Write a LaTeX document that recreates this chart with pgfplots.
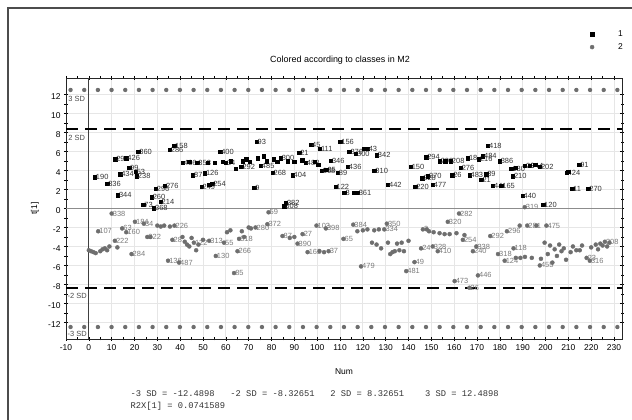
\documentclass[border=0pt]{standalone}
\usepackage{pgfplots}
\pgfplotsset{compat=1.18}
\usepackage{fontspec}
\setmainfont{Liberation Sans}
\setmonofont{Liberation Mono}
\definecolor{cltwo}{HTML}{6E6E6E}
\definecolor{lblone}{HTML}{333333}
\definecolor{lbltwo}{HTML}{7A7A7A}
\definecolor{gridc}{HTML}{E6E6E6}
\begin{document}
\begin{tikzpicture}
\path[use as bounding box] (0,0) rectangle (632bp,420bp);
\draw[line width=1.2bp, black!70] (8bp,0) -- (8bp,412bp) -- (632bp,412bp);
\node[font=\fontsize{9}{9}\selectfont] at (340bp,360bp) {Colored according to classes in M2};
\begin{axis}[
  scale only axis, width=556bp, height=261bp,
  at={(66bp,81bp)}, anchor=south west,
  xmin=-10, xmax=233.5, ymin=-13.75, ymax=13.75,
  xtick={-10,0,...,230}, ytick={-12,-10,...,12},
  minor x tick num=1, minor y tick num=1,
  tick align=center, major tick length=4bp, minor tick length=3bp,
  grid=major, major grid style={gridc, line width=0.7pt},
  axis line style={black!85, line width=0.9pt},
  tick style={black, line width=0.6pt},
  ticklabel style={font=\fontsize{8.5}{8.5}\selectfont},
  yticklabel style={yshift=-2bp},
  /pgf/number format/assume math mode=true,
  xlabel={Num}, ylabel={t[1]},
  label style={font=\fontsize{8.5}{8.5}\selectfont},
  x label style={at={(axis description cs:0.5,-0.126)}, anchor=center},
  y label style={at={(axis description cs:-0.056,0.5)}, anchor=center},
  clip=false,
  legend style={at={(rel axis cs:1,1)}, anchor=south east, xshift=3bp, yshift=25bp,
    draw=none, fill=none, inner sep=0pt, row sep=1.5bp,
    font=\fontsize{8.5}{8.5}\selectfont,
    /tikz/every odd column/.append style={column sep=22bp}},
  legend cell align=left,
]
% reference lines
\draw[gray!90, line width=1.8bp] (axis cs:-10,0) -- (axis cs:233.5,0);
\draw[black!75, line width=1.2bp] (axis cs:0,-13.75) -- (axis cs:0,13.75);
\draw[black, line width=2bp, dash pattern=on 12bp off 7bp] (axis cs:-10,8.32651) -- (axis cs:233.5,8.32651);
\draw[black, line width=2bp, dash pattern=on 12bp off 7bp] (axis cs:-10,-8.32651) -- (axis cs:233.5,-8.32651);
\draw[cltwo, line width=4.4bp, line cap=round, dash pattern=on 0bp off 13.67bp] (axis cs:-8,12.4898) -- (axis cs:234,12.4898);
\draw[cltwo, line width=4.4bp, line cap=round, dash pattern=on 0bp off 13.67bp] (axis cs:-8,-12.4898) -- (axis cs:234,-12.4898);
\node[anchor=west, font=\fontsize{7.5}{7.5}\selectfont, black!70, inner sep=0.5bp] at (axis cs:-9.3,11.5) {3 SD};
\node[anchor=west, font=\fontsize{7.5}{7.5}\selectfont, black!70, inner sep=0.5bp] at (axis cs:-9.3,7.4) {2 SD};
\node[anchor=west, font=\fontsize{7.5}{7.5}\selectfont, black!70, inner sep=0.5bp] at (axis cs:-9.6,-9.2) {-2 SD};
\node[anchor=west, font=\fontsize{7.5}{7.5}\selectfont, black!70, inner sep=0.5bp] at (axis cs:-9.6,-13.25) {-3 SD};

% class 1 labeled
\addplot[only marks, mark=square*, mark size=1.7bp, black,
  nodes near coords, point meta=explicit symbolic,
  every node near coord/.append style={anchor=west, inner sep=1bp, font=\fontsize{7.5}{7.5}\selectfont, color=lblone}]
  table[meta=l] {
x y l
2.6 3.3 190
8 2.6 336
11.5 5.2 29
12.7 1.4 344
13.7 3.6 434
16.4 5.3 426
17.6 4.3 99
20.5 3.9 53
21 3.4 238
21.6 6.0 360
23.8 0.4 73
27.5 1.2 260
28.5 0.03 368
29.3 2.1 296
31.4 0.7 214
33.3 2.4 276
35.4 6.2 286
37.3 6.6 158
41.2 4.8 436
45.6 3.5 87
47.5 4.8 353
49.3 2.3 249
50.8 3.7 126
54 2.6 254
57.5 6.0 400
60 4.8 34
66.8 4.4 292
72.4 2.2 9
73.4 7.05 93
75.3 4.5 485
80.4 3.75 268
84 5.3 300
85.6 0.25 308
86.3 0.6 382
89.2 3.5 404
92.1 5.9 21
95 4.8 488
97.3 6.7 45
101.2 6.3 111
102 4.0 368
104 4.1 35
106 5.05 346
108 2.3 122
109 3.8 89
110.1 7.05 156
111.9 1.65 3
113.4 4.4 436
114.1 6.0 376
117 5.8 300
117.7 1.65 361
122.1 6.3 43
125 4.0 310
126.1 5.6 342
131 2.5 442
140.9 4.4 150
142.9 2.3 220
146 3.2 228
147.7 5.4 294
148.5 3.4 270
150.6 2.5 477
153.6 5.0 209
158.5 5.0 208
159.1 3.5 26
162.8 4.3 276
166 5.3 18
166.7 3.5 483
170.8 5.2 216
171.9 3.05 21
172.6 5.5 484
174 3.6 39
174.8 6.6 418
177 2.4 44
179.9 5.0 386
180.6 2.4 165
185 4.2 180
185.7 3.4 210
189.9 1.37 440
191 4.5 29
193 4.5 344
197.5 4.4 202
198.9 0.42 120
209.2 3.8 424
211.6 2.1 11
214.7 4.6 91
218.7 2.1 270
};
\addlegendentry{1}
% class 2 labeled
\addplot[only marks, mark=*, mark size=2bp, cltwo,
  nodes near coords, point meta=explicit symbolic,
  every node near coord/.append style={anchor=west, inner sep=1bp, font=\fontsize{7.5}{7.5}\selectfont, color=lbltwo}]
  table[meta=l] {
x y l
4.1 -2.4 107
10 -0.53 338
11.4 -3.4 222
14.6 -2.1 63
16.4 -2.5 160
18.7 -4.8 284
20.2 -1.4 184
24.1 -1.6 34
25.6 -3.0 322
34.7 -5.5 136
36.6 -3.3 28
37.5 -1.8 226
39.5 -5.7 487
46 -3.6 122
52.7 -3.4 313
55.6 -5.0 130
59.2 -3.6 55
63.6 -6.8 85
65.1 -4.5 266
65.8 -3.2 518
73 -2.0 280
78.2 -1.65 372
78.7 -0.4 59
84.8 -2.9 87
91.4 -3.7 390
93.6 -2.7 27
95.8 -4.6 162
99.7 -1.8 103
103.8 -2.1 398
105 -4.5 37
111.5 -3.2 65
115.8 -1.7 384
119.2 -6.1 479
129.4 -2.2 334
130.5 -1.6 350
139 -6.6 481
142.6 -5.65 49
145.5 -4.2 24
146.3 -2.2 3
150.6 -4.0 328
152.8 -4.5 410
157.2 -1.4 320
160.2 -7.65 473
162.1 -0.53 282
163.8 -3.3 254
166.7 -8.35 26
168.2 -4.5 240
169.7 -4.0 338
170.4 -7.05 446
175.8 -2.9 292
179.2 -4.8 318
182.1 -5.5 124
183.1 -2.4 296
186 -4.2 118
190.9 0.14 319
192 -1.8 281
197.5 -6.0 455
200.4 -1.8 475
218 -5.2 23
219.4 -5.5 316
226 -3.5 308
};
\addlegendentry{2}
% class 1 unlabeled
\addplot[only marks, mark=square*, mark size=1.7bp, black, forget plot] table {
x y
44 4.9
52 4.8
52.7 2.5
55 4.8
58.5 4.9
62 5.0
64.4 4.2
67.5 5.0
69 5.2
70.5 4.9
74 5.3
76.5 5.5
78 5.0
81 5.2
82.5 4.9
87 5.0
90 4.9
93.5 5.1
99 4.9
100.5 4.6
116 1.65
120.5 6.3
156 5.0
187 4.3
195.5 4.6
210 3.9
};
% class 2 unlabeled
\addplot[only marks, mark=*, mark size=2bp, cltwo, forget plot] table {
x y
0 -4.4
1 -4.5
2 -4.6
3 -4.7
5 -4.5
6 -4.3
7 -4.2
8 -4.4
9 -4.0
12.5 -4.1
27 -3.0
30 -1.8
31.5 -1.9
33 -1.8
35.5 -1.9
41 -3.0
42 -3.5
43 -3.8
44 -4.0
45 -3.1
47 -4.4
48 -3.8
50 -3.3
60.5 -2.5
62 -2.3
67 -2.4
68 -3.0
70 -2.0
71 -2.1
88 -3.1
90 -3.0
101 -4.5
103 -4.6
117.6 -2.4
120 -2.3
122 -2.2
124 -3.6
125 -2.3
126 -3.8
127 -2.2
128 -4.2
131 -3.6
132 -4.8
133 -4.6
134 -4.5
135 -3.7
136 -4.4
137 -3.6
138 -4.5
140 -3.4
148 -2.2
149 -2.4
151 -2.5
153.6 -2.6
155.8 -2.7
158 -2.7
161 -2.6
164.5 -2.8
187 -5.2
188.7 -1.8
189 -5.2
191 -5.1
194 -5.2
196 -1.8
198 -5.3
199.6 -3.6
201 -4.8
202 -3.9
203 -5.7
204 -4.3
205 -5.0
206 -3.8
207 -4.5
208 -4.2
209 -5.4
211 -4.6
212 -4.0
213.5 -4.4
215 -4.4
216 -3.9
220 -4.1
222 -3.8
223 -4.3
224 -3.7
225 -3.9
227 -4.0
228 -3.6
};
\end{axis}
\node[anchor=west, font=\ttfamily\fontsize{8.8}{10}\selectfont, black!80] at (127bp,26bp) {-3 SD = -12.4898~~~-2 SD = -8.32651~~~2 SD = 8.32651~~~~3 SD = 12.4898};
\node[anchor=west, font=\ttfamily\fontsize{8.8}{10}\selectfont, black!80] at (127bp,14bp) {R2X[1] = 0.0741589};
\end{tikzpicture}
\end{document}
